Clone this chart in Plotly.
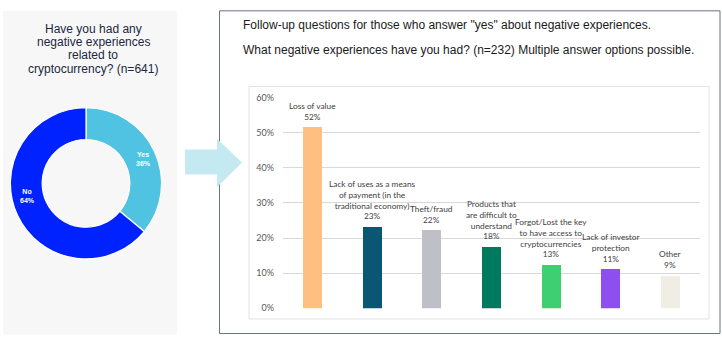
import plotly.graph_objects as go

W, H = 722, 355

# ---------------- data ----------------
pie_labels = ["Yes", "No"]
pie_values = [36, 64]
pie_colors = ["#4fc3e1", "#0022ff"]

left_title_lines = ["Have you had any", "negative experiences", "related to",
                    "cryptocurrency? (n=641)"]
header_lines = ['Follow-up questions for those who answer "yes" about negative experiences.',
                "What negative experiences have you had? (n=232) Multiple answer options possible."]

categories = ["Loss of value",
              "Lack of uses as a means<br>of payment (in the<br>traditional economy)",
              "Theft/fraud",
              "Products that<br>are difficult to<br>understand",
              "Forgot/Lost the key<br>to have access to<br>cryptocurrencies",
              "Lack of investor<br>protection",
              "Other"]
values = [51.7, 23.3, 22.4, 17.7, 12.5, 11.2, 9.4]
value_labels = ["52%", "23%", "22%", "18%", "13%", "11%", "9%"]
bar_colors = ["#ffbf80", "#0b5673", "#bfc0c7", "#007a5e", "#3ecf72", "#8e4ff0", "#efede4"]
y_ticks = [0, 10, 20, 30, 40, 50, 60]
y_tick_text = ["0%", "10%", "20%", "30%", "40%", "50%", "60%"]


def px(x):
    return x / W


def py(y):
    return 1 - y / H


fig = go.Figure()

# donut
fig.add_trace(go.Pie(
    labels=pie_labels, values=pie_values, hole=0.58, sort=False,
    direction="clockwise", rotation=0,
    marker=dict(colors=pie_colors, line=dict(color="white", width=1.2)),
    textinfo="none", hoverinfo="label+percent", showlegend=False,
    domain=dict(x=[px(8), px(164)], y=[py(261), py(105)]),
))

# bars
fig.add_trace(go.Bar(
    x=list(range(len(categories))), y=values,
    marker=dict(color=bar_colors, line=dict(width=0)),
    width=0.32, showlegend=False, hoverinfo="y",
))

shapes = [
    dict(type="rect", xref="paper", yref="paper", x0=px(3), x1=px(177), y0=py(339), y1=py(5),
         fillcolor="#f7f7f7", line=dict(width=0), layer="below"),
    dict(type="rect", xref="paper", yref="paper", x0=px(219.5), x1=px(720), y0=py(338), y1=py(5),
         fillcolor="rgba(0,0,0,0)", line=dict(color="#66727f", width=1), layer="below"),
    dict(type="rect", xref="paper", yref="paper", x0=px(249), x1=px(709), y0=py(323), y1=py(83),
         fillcolor="white", line=dict(color="#e2e2e2", width=1), layer="below"),
]
arrow_pts = [(185, 148), (217, 148), (217, 137), (242, 161.5), (217, 187), (217, 174), (185, 174)]
path = "M " + " L ".join(f"{px(x):.5f},{py(y):.5f}" for x, y in arrow_pts) + " Z"
shapes.append(dict(type="path", xref="paper", yref="paper", path=path,
                   fillcolor="#c5e9f0", line=dict(width=0), layer="above"))

annotations = []
# left title
for i, (line, yc) in enumerate(zip(left_title_lines, [23.3, 37, 51, 64.5])):
    annotations.append(dict(xref="paper", yref="paper", x=px(93), y=py(yc), text=line,
                            showarrow=False, xanchor="center", yanchor="middle",
                            font=dict(family="Liberation Sans, Arial", size=12, color="#1b2840")))
# pie labels
for lab, val, (x, y) in zip(pie_labels, pie_values, [(143, 158), (28, 196)]):
    annotations.append(dict(xref="paper", yref="paper", x=px(x), y=py(y),
                            text=f"<b>{lab}<br>{val}%</b>", showarrow=False,
                            xanchor="center", yanchor="middle",
                            font=dict(family="Liberation Sans, Arial", size=7, color="white")))
# header
for line, yc in zip(header_lines, [20, 45]):
    annotations.append(dict(xref="paper", yref="paper", x=px(241), y=py(yc), text=line,
                            showarrow=False, xanchor="left", yanchor="middle",
                            font=dict(family="Liberation Sans, Arial", size=12, color="#1a1a1a")))
# bar labels
for i, (cat, v, lab) in enumerate(zip(categories, values, value_labels)):
    annotations.append(dict(x=i, y=v, xref="x", yref="y", text=f"{cat}<br>{lab}",
                            showarrow=False, xanchor="center", yanchor="bottom", yshift=3,
                            align="center",
                            font=dict(family="Lato, Carlito, Calibri", size=8.3, color="#404040")))

fig.update_layout(
    width=W, height=H, margin=dict(l=0, r=0, t=0, b=0),
    paper_bgcolor="white", plot_bgcolor="rgba(0,0,0,0)",
    shapes=shapes, annotations=annotations,
    xaxis=dict(domain=[px(283), px(700)], range=[-0.5, 6.5], showticklabels=False,
               showgrid=False, zeroline=False, showline=False, ticks=""),
    yaxis=dict(domain=[py(312), py(94.5)], range=[0, 60], tickvals=y_ticks,
               ticktext=y_tick_text, showgrid=True, gridcolor="#d9d9d9", gridwidth=1,
               zeroline=False, showline=False, ticks="", ticklabelstandoff=8,
               tickfont=dict(family="Lato, Carlito, Calibri", size=9, color="#595959")),
    bargap=0,
)

fig.write_html("out.html", config={"displayModeBar": False},
               post_script="document.body.style.margin='0';")
